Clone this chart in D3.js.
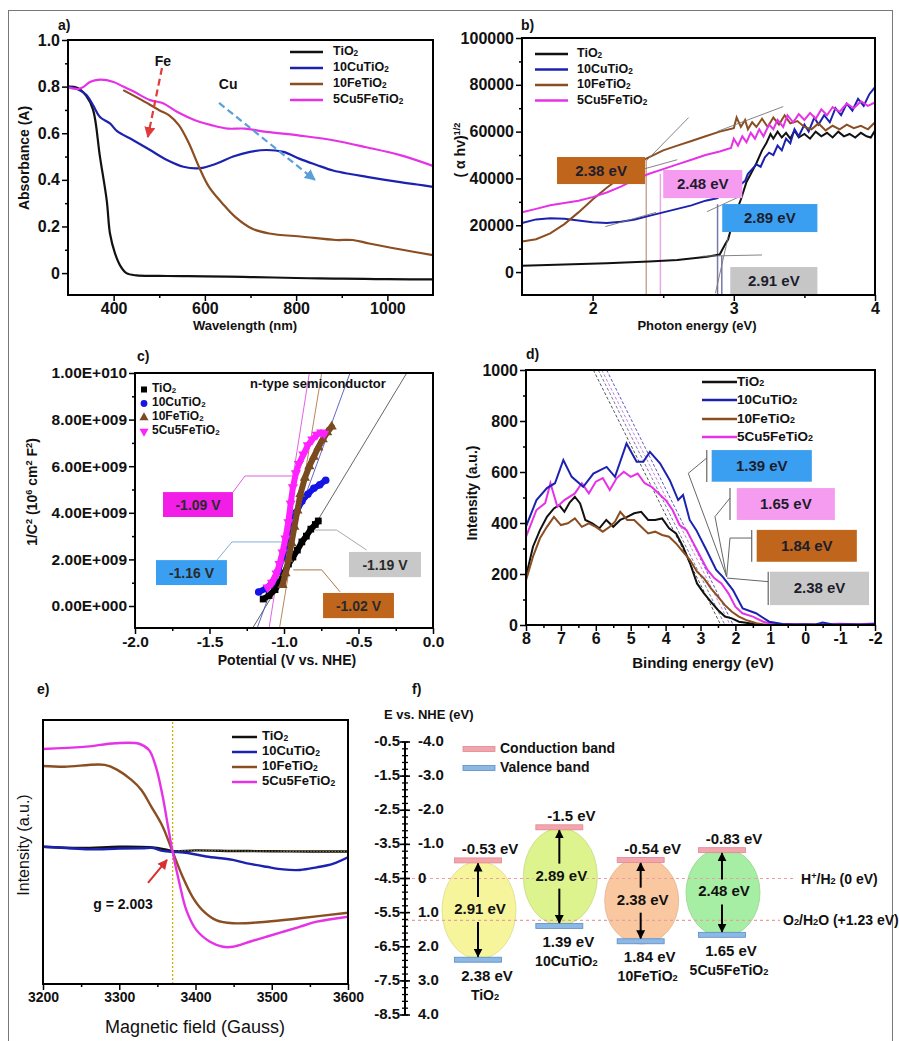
<!DOCTYPE html>
<html><head><meta charset="utf-8">
<script src="https://cdn.jsdelivr.net/npm/d3@7"></script>
<style>body{margin:0;background:#fff}svg{display:block}</style>
</head><body><script>
// ================= DATA =================
const seriesNames = ["TiO_2","10CuTiO_2","10FeTiO_2","5Cu5FeTiO_2"];
const lineColors = ["#111111","#1c22b0","#8b4e22","#e632e6"];

// (a) absorbance vs wavelength
const aTiO2 = [[300,0.80],[320,0.795],[340,0.76],[355,0.70],[370,0.50],[385,0.31],[392,0.17],[403,0.085],[415,0.03],[428,0.0],[450,-0.01],[500,-0.012],[550,-0.013],[600,-0.014],[650,-0.015],[700,-0.017],[750,-0.019],[800,-0.021],[850,-0.023],[900,-0.024],[950,-0.025],[1000,-0.026],[1050,-0.027],[1100,-0.027]];
const aCu = [[300,0.80],[320,0.79],[340,0.765],[355,0.72],[370,0.67],[392,0.642],[407,0.61],[443,0.57],[480,0.528],[517,0.485],[553,0.456],[589,0.45],[626,0.47],[662,0.50],[699,0.52],[735,0.528],[772,0.52],[808,0.49],[845,0.464],[881,0.44],[918,0.425],[955,0.413],[1028,0.39],[1065,0.38],[1100,0.37]];
const aFe = [[421,0.785],[462,0.742],[499,0.70],[521,0.678],[543,0.635],[565,0.557],[587,0.456],[609,0.37],[638,0.30],[667,0.24],[704,0.19],[741,0.17],[814,0.156],[887,0.142],[924,0.142],[960,0.127],[1033,0.10],[1100,0.077]];
const aMag = [[300,0.797],[323,0.79],[335,0.80],[348,0.82],[370,0.83],[400,0.82],[421,0.80],[443,0.78],[480,0.742],[507,0.73],[541,0.69],[577,0.657],[614,0.635],[650,0.62],[687,0.62],[735,0.606],[808,0.59],[881,0.57],[954,0.54],[1028,0.506],[1100,0.46]];
const aYTicks = [0,0.2,0.4,0.6,0.8,1.0];
const aYLabels = ["0","0.2","0.4","0.6","0.8","1.0"];
const aXTicks = [400,600,800,1000];

// (b) Tauc plot
const bTiO2 = [[1.5,2700],[1.8,3200],[2.1,3800],[2.4,4500],[2.6,5200],[2.81,6500],[2.9,7500],[2.94,12000],[2.96,14000],[3.0,23000],[3.05,31000],[3.09,38500],[3.16,46500],[3.2,52000],[3.23,55000],[3.26,59000],[3.28,57000],[3.31,60000],[3.34,57500],[3.37,59500],[3.4,57000],[3.43,60500],[3.46,57500],[3.5,59000],[3.54,57000],[3.58,60000],[3.62,58000],[3.66,59500],[3.7,57500],[3.74,60000],[3.78,58000],[3.82,59000],[3.86,57500],[3.9,59500],[3.94,58000],[3.97,57500],[4.0,60500]];
const bCu = [[1.5,21000],[1.6,22500],[1.7,23000],[1.8,22800],[1.9,22000],[2.0,21300],[2.1,21000],[2.2,21500],[2.3,22500],[2.4,24000],[2.5,25500],[2.6,27000],[2.7,28500],[2.8,30500],[2.88,31500],[2.95,34000],[3.0,36000],[3.05,37500],[3.08,39000],[3.1,42000],[3.13,44000],[3.16,46000],[3.19,45000],[3.22,49000],[3.25,51000],[3.28,50000],[3.31,54000],[3.34,52000],[3.37,57000],[3.4,55000],[3.43,61000],[3.46,58000],[3.5,63000],[3.53,60000],[3.57,66000],[3.6,63000],[3.64,67000],[3.68,64000],[3.72,70000],[3.76,67000],[3.8,72000],[3.84,69000],[3.88,74000],[3.92,71000],[3.96,76000],[4.0,79000]];
const bFe = [[1.5,13000],[1.6,14000],[1.7,16500],[1.8,20500],[1.9,25500],[2.0,31000],[2.1,36000],[2.2,40500],[2.3,45000],[2.38,48500],[2.5,52000],[2.6,54000],[2.7,56000],[2.8,58000],[2.9,60000],[3.0,61500],[3.02,66000],[3.05,62000],[3.08,65000],[3.1,61000],[3.13,64000],[3.16,62000],[3.2,65500],[3.24,62000],[3.28,66000],[3.32,63000],[3.36,67000],[3.4,63500],[3.45,64500],[3.5,62000],[3.55,61000],[3.6,63500],[3.65,60500],[3.7,62500],[3.75,61000],[3.8,63000],[3.85,61500],[3.9,62500],[3.95,61000],[4.0,64000]];
const bMag = [[1.5,25500],[1.6,27000],[1.7,28500],[1.8,29500],[1.9,30500],[2.0,32000],[2.1,34000],[2.2,36500],[2.3,39500],[2.4,42000],[2.5,44000],[2.6,46000],[2.7,48000],[2.8,50000],[2.9,51500],[2.98,53000],[3.0,57000],[3.03,54000],[3.06,58000],[3.09,55500],[3.12,59500],[3.15,57000],[3.18,61000],[3.21,58000],[3.25,63000],[3.28,61000],[3.31,65000],[3.35,62000],[3.38,67000],[3.42,64000],[3.46,67500],[3.5,65000],[3.54,68000],[3.58,65500],[3.62,69500],[3.66,67000],[3.7,70500],[3.75,68500],[3.8,72000],[3.85,70000],[3.9,73000],[3.95,71000],[4.0,72500]];
const bYTicks = [0,20000,40000,60000,80000,100000];
const bXTicks = [2,3,4];
const bTangents = [[[2.38,47500],[2.68,66000]],[[2.88,60000],[3.35,70700]],[[2.24,42000],[2.6,48000]],[[2.09,19400],[2.45,25500]],[[2.81,25800],[3.04,32200]],[[2.78,6800],[3.2,7300]],[[2.87,-9000],[2.96,15000]]];
const bVLines = [[2.38,47500,"#c9a898"],[2.48,42000,"#e8a8e8"],[2.885,29000,"#7777aa"],[2.915,7000,"#7777aa"]];
const bBoxes = [{x0:1.748,x1:2.372,y0:37600,y1:49150,fill:"#c0661c",label:"2.38 eV"},{x0:2.50,x1:3.06,y0:31600,y1:43600,fill:"#f59cf0",label:"2.48 eV"},{x0:2.918,x1:3.592,y0:17090,y1:29060,fill:"#3a9ff0",label:"2.89 eV"},{x0:2.975,x1:3.592,y0:-9830,y1:2140,fill:"#c6c6c6",label:"2.91 eV"}];

// (c) Mott-Schottky (1/C^2 in units of 1e9)
const cTiO2 = [[-1.14,0.3],[-1.1,0.45],[-1.06,0.7],[-1.03,1.0],[-1.0,1.4],[-0.97,1.8],[-0.94,2.1],[-0.91,2.4],[-0.88,2.75],[-0.85,3.0],[-0.82,3.3],[-0.79,3.5],[-0.77,3.65]];
const cCu = [[-1.17,0.6],[-1.12,0.75],[-1.08,1.0],[-1.04,1.5],[-1.01,2.1],[-0.98,2.7],[-0.95,3.4],[-0.92,4.0],[-0.88,4.5],[-0.84,4.8],[-0.8,5.05],[-0.76,5.2],[-0.72,5.4]];
const cFe = [[-1.01,0.9],[-0.99,1.4],[-0.97,2.0],[-0.95,2.7],[-0.93,3.4],[-0.91,4.1],[-0.89,4.8],[-0.86,5.5],[-0.83,6.0],[-0.80,6.4],[-0.77,6.8],[-0.74,7.15],[-0.71,7.45],[-0.68,7.7]];
const cMag = [[-1.11,0.8],[-1.08,1.0],[-1.05,1.4],[-1.03,1.8],[-1.01,2.3],[-0.99,2.9],[-0.97,3.6],[-0.955,4.4],[-0.94,5.1],[-0.92,5.7],[-0.9,6.1],[-0.87,6.5],[-0.84,6.9],[-0.81,7.15],[-0.78,7.35],[-0.75,7.45],[-0.73,7.4]];
const cYTicks = [0,2,4,6,8,10];
const cYLabels = ["0.00E+000","2.00E+009","4.00E+009","6.00E+009","8.00E+009","1.00E+010"];
const cXTicks = [-2,-1.5,-1,-0.5,0];
const cXLabels = ["-2.0","-1.5","-1.0","-0.5","0.0"];
const cFits = [[[-1.21,-0.944],[-0.176,10]],[[-1.18,-0.944],[-0.557,10]],[[-1.03,-0.944],[-0.747,10]],[[-1.10,-0.944],[-0.83,10]]];
const cFitColors = ["#555555","#5555c0","#b07848","#e050e0"];
const cBoxes = [{x0:-1.812,x1:-1.342,y0:3.82,y1:4.89,fill:"#f21ee8",label:"-1.09 V",lead:[[-1.342,4.89],[-1.262,5.58],[-0.94,5.58]],lc:"#e060e0"},{x0:-1.859,x1:-1.383,y0:0.90,y1:1.97,fill:"#3a9ff0",label:"-1.16 V",lead:[[-1.45,1.97],[-1.349,2.75],[-0.98,2.75]],lc:"#80b0d8"},{x0:-0.564,x1:-0.081,y0:1.24,y1:2.32,fill:"#c8c8c8",label:"-1.19 V",lead:[[-0.445,2.40],[-0.647,3.26],[-0.792,3.26]],lc:"#aaaaaa"},{x0:-0.738,x1:-0.262,y0:-0.52,y1:0.56,fill:"#c0661c",label:"-1.02 V",lead:[[-0.624,0.61],[-0.747,1.55],[-0.938,1.55]],lc:"#b07848"}];

// (d) VB-XPS
const dTiO2 = [[8,190],[7.8,307],[7.6,372],[7.4,424],[7.2,457],[7.05,470],[6.9,444],[6.75,480],[6.6,503],[6.45,477],[6.3,412],[6.1,399],[5.9,379],[5.7,412],[5.5,385],[5.3,412],[5.1,424],[4.9,438],[4.7,444],[4.5,412],[4.3,412],[4.1,418],[3.9,379],[3.7,359],[3.5,307],[3.3,242],[3.1,163],[2.9,124],[2.7,91],[2.5,59],[2.3,33],[2.1,26],[1.9,13],[1.6,7],[1.3,0],[1.0,2],[0.5,0],[0,1],[-0.5,0],[-1,1],[-1.5,0],[-2,0]];
const dCu = [[8,386],[7.7,490],[7.4,537],[7.17,556],[6.93,647],[6.69,581],[6.36,542],[6.07,594],[5.69,620],[5.45,581],[5.12,712],[4.83,640],[4.64,640],[4.45,679],[4.16,634],[3.88,568],[3.64,490],[3.5,510],[3.31,412],[3.12,372],[2.83,294],[2.55,216],[2.36,189],[2.07,137],[1.79,65],[1.41,46],[1.03,13],[0.65,4],[0.3,2],[0,3],[-0.3,2],[-0.5,10],[-0.8,2],[-1.2,3],[-1.6,2],[-2,4]];
const dFe = [[8,176],[7.8,268],[7.6,340],[7.4,385],[7.2,424],[7.0,392],[6.8,399],[6.6,418],[6.4,385],[6.2,399],[6.0,385],[5.8,366],[5.6,385],[5.45,405],[5.3,444],[5.1,412],[4.9,412],[4.7,385],[4.5,359],[4.3,366],[4.1,353],[3.9,346],[3.7,320],[3.5,287],[3.3,255],[3.1,209],[2.9,183],[2.7,144],[2.5,111],[2.3,78],[2.1,52],[1.9,33],[1.7,20],[1.4,7],[1.1,0],[0.5,2],[0,0],[-1,1],[-2,0]];
const dMag = [[8,346],[7.7,451],[7.45,478],[7.3,556],[7.1,464],[6.9,490],[6.6,516],[6.4,556],[6.2,516],[6.0,562],[5.8,576],[5.6,529],[5.4,576],[5.2,601],[5.0,581],[4.8,594],[4.6,556],[4.4,542],[4.2,516],[4.0,490],[3.8,451],[3.6,392],[3.4,372],[3.2,320],[3.0,268],[2.8,216],[2.6,183],[2.4,163],[2.2,124],[2.0,72],[1.8,46],[1.5,33],[1.2,13],[0.9,2],[0.5,4],[0,2],[-0.5,3],[-1,5],[-1.5,3],[-2,6]];
const dYTicks = [0,200,400,600,800,1000];
const dXTicks = [8,7,6,5,4,3,2,1,0,-1,-2];
const dFits = [[[6.07,1000],[2.42,0]],[[5.93,1000],[2.30,0]],[[5.83,1000],[2.15,0]],[[5.69,1000],[2.06,0]]];
const dFitColors = ["#555555","#7777aa","#d080d0","#5555cc"];
const dBoxes = [{x0:2.68,x1:-0.19,y0:562,y1:686,fill:"#3a9ff0",label:"1.39 eV",bar:[2.82,561,686],lead:[[2.82,655],[3.35,595],[2.25,189]]},{x0:1.96,x1:-0.85,y0:412,y1:537,fill:"#f59cf0",label:"1.65 eV",bar:[2.155,412,537],lead:[[2.155,498],[2.585,425],[2.25,189]]},{x0:1.39,x1:-1.48,y0:248,y1:373,fill:"#c0661c",label:"1.84 eV",bar:[1.533,248,373],lead:[[1.533,341],[2.155,341],[2.25,189]]},{x0:1.01,x1:-1.83,y0:78,y1:209,fill:"#c8c8c8",label:"2.38 eV",bar:[1.06,78,209],lead:[[1.06,170],[2.24,184]]}];

// (e) EPR
const eTiO2 = [[3200,52],[3250,51.5],[3300,52],[3340,51.8],[3360,51],[3370,50.3],[3400,50.6],[3450,50.4],[3500,50.3],[3550,50.2],[3600,50.2]];
const eCu = [[3200,52],[3230,51.5],[3260,51],[3300,51.3],[3330,51.4],[3345,51.5],[3355,50.5],[3370,50.1],[3390,49.6],[3414,48.3],[3449,47],[3466,45.8],[3493,44.4],[3515,43.4],[3537,43.2],[3559,44.2],[3580,45.5],[3600,48]];
const eFe = [[3200,82.6],[3228,82.3],[3281,83],[3298,81],[3316,77.3],[3329,73.5],[3342,67.2],[3357,59.6],[3370,50.1],[3383,40.7],[3396,33],[3409,28],[3427,24.2],[3449,23],[3493,23.6],[3537,24.9],[3600,27]];
const eMag = [[3200,89],[3253,89.8],[3295,91.2],[3326,91],[3339,88.6],[3348,82.3],[3357,71],[3364,59.6],[3370,50.1],[3379,38.1],[3388,28],[3401,20.5],[3419,16],[3436,14.1],[3449,14.1],[3471,16],[3493,17.9],[3515,19.8],[3537,21.7],[3559,23.6],[3600,25.5]];
const eXTicks = [3200,3300,3400,3500,3600];
const eG = 3370;

// (f) band structure
const fNames = ["TiO_2","10CuTiO_2","10FeTiO_2","5Cu5FeTiO_2"];
const fCB = [-0.53,-1.5,-0.54,-0.83];
const fVB = [2.38,1.39,1.84,1.65];
const fCBLabels = ["-0.53 eV","-1.5 eV","-0.54 eV","-0.83 eV"];
const fVBLabels = ["2.38 eV","1.39 eV","1.84 eV","1.65 eV"];
const fGapLabels = ["2.91 eV","2.89 eV","2.38 eV","2.48 eV"];
const fFill = ["#f6f59c","#dcf38e","#f9c8a0","#a6eea3"];
const fRightTicks = [-4,-3,-2,-1,0,1,2,3,4];
const fRightLabels = ["-4.0","-3.0","-2.0","-1.0","0","1.0","2.0","3.0","4.0"];
const fLeftLabels = ["-0.5","-1.5","-2.5","-3.5","-4.5","-5.5","-6.5","-7.5","-8.5"];
const fRedox = [[0,"H^+/H_2 (0 eV)"],[1.23,"O_2/H_2O (+1.23 eV)"]];

// ================= DRAWING =================
const FONT = '"Liberation Sans", Arial, Helvetica, sans-serif';
const svg = d3.select("body").append("svg").attr("width",899).attr("height",1041).style("font-family",FONT);
svg.append("rect").attr("width",899).attr("height",1041).attr("fill","#fff");
svg.append("rect").attr("x",8.5).attr("y",10.5).attr("width",884).attr("height",1040).attr("fill","none").attr("stroke","#777").attr("stroke-width",1);
const defs = svg.append("defs");
function marker(id,color,s){
  defs.append("marker").attr("id",id).attr("viewBox","0 0 10 10").attr("refX",9).attr("refY",5)
    .attr("markerWidth",s).attr("markerHeight",s).attr("markerUnits","userSpaceOnUse").attr("orient","auto")
    .append("path").attr("d","M0,0 L10,5 L0,10 z").attr("fill",color);
}
marker("arRed","#e03a3a",11); marker("arBlue","#5aa0d8",11); marker("arBlack","#000",9); marker("arRed2","#d83030",10);

function txt(g,x,y,s,o={}){
  const t = g.append("text").attr("x",x).attr("y",y)
    .attr("font-size",o.size||14).attr("font-weight",o.weight||"bold")
    .attr("text-anchor",o.anchor||"start").attr("fill",o.fill||"#111")
    .attr("dominant-baseline",o.base||"middle");
  if (o.rotate) t.attr("transform",`rotate(${o.rotate},${x},${y})`);
  s.split(/(_\{[^}]*\}|_.|\^\{[^}]*\}|\^.)/).forEach(p=>{
    if(!p) return;
    if(p[0]==="_"||p[0]==="^"){
      const v = p[1]==="{"?p.slice(2,-1):p.slice(1);
      t.append("tspan").attr("baseline-shift",p[0]==="_"?"-22%":"38%").attr("font-size","66%").text(v);
    } else t.append("tspan").text(p);
  });
  return t;
}
let clipN=0;
function frame(x,y,o){
  const g = svg.append("g");
  const [xl,xr]=x.range().slice().sort((a,b)=>a-b);
  const yb=y.range()[0], yt=y.range()[1];
  const st = sel=>{ sel.select(".domain").remove(); sel.selectAll("line").attr("stroke","#000").attr("stroke-width",1.5);
    sel.selectAll("text").attr("font-family",FONT).attr("font-weight","bold").attr("font-size",o.ts||16).attr("fill","#111"); };
  if(o.xMinor) g.append("g").attr("transform",`translate(0,${yb})`).call(d3.axisBottom(x).tickValues(o.xMinor).tickSize(3).tickFormat("")).call(st);
  if(o.xMajor) g.append("g").attr("transform",`translate(0,${yb})`).call(d3.axisBottom(x).tickValues(o.xMajor).tickSize(6).tickPadding(2).tickFormat((d,i)=>o.xLabels?o.xLabels[i]:d)).call(st);
  if(o.yMinor) g.append("g").attr("transform",`translate(${xl},0)`).call(d3.axisLeft(y).tickValues(o.yMinor).tickSize(3).tickFormat("")).call(st);
  if(o.yMajor) g.append("g").attr("transform",`translate(${xl},0)`).call(d3.axisLeft(y).tickValues(o.yMajor).tickSize(6).tickPadding(2).tickFormat((d,i)=>o.yLabels?o.yLabels[i]:d)).call(st);
  const id="clip"+(clipN++);
  defs.append("clipPath").attr("id",id).append("rect").attr("x",xl).attr("y",yt).attr("width",xr-xl).attr("height",yb-yt);
  const plot = g.append("g").attr("clip-path",`url(#${id})`);
  g.append("rect").attr("x",xl).attr("y",yt).attr("width",xr-xl).attr("height",yb-yt).attr("fill","none").attr("stroke","#000").attr("stroke-width",2);
  return {g,plot,top:g};
}
function lineG(x,y,curve){ return d3.line().x(d=>x(d[0])).y(d=>y(d[1])).curve(curve||d3.curveLinear); }
function legendLines(g,x0,x1,tx,ys,size,w){
  seriesNames.forEach((n,i)=>{
    g.append("line").attr("x1",x0).attr("x2",x1).attr("y1",ys[i]).attr("y2",ys[i]).attr("stroke",lineColors[i]).attr("stroke-width",w||2.5);
    txt(g,tx,ys[i],n,{size:size||13});
  });
}
function tagBox(g,x,y,b,size,tcol){
  const px0=Math.min(x(b.x0),x(b.x1)), px1=Math.max(x(b.x0),x(b.x1));
  const py0=Math.min(y(b.y0),y(b.y1)), py1=Math.max(y(b.y0),y(b.y1));
  g.append("rect").attr("x",px0).attr("y",py0).attr("width",px1-px0).attr("height",py1-py0).attr("fill",b.fill);
  txt(g,(px0+px1)/2,(py0+py1)/2+1,b.label,{size:size||15,anchor:"middle",fill:tcol||"#1d1d2d"});
}

// ---------- (a) ----------
{
  const x=d3.scaleLinear([300,1100],[68,433]), y=d3.scaleLinear([-0.094,1.0],[295,40]);
  const P=frame(x,y,{xMajor:aXTicks,xMinor:[500,700,900],yMajor:aYTicks,yLabels:aYLabels,yMinor:[0.1,0.3,0.5,0.7,0.9]});
  const L=lineG(x,y,d3.curveCatmullRom);
  [aTiO2,aCu,aFe,aMag].forEach((d,i)=>P.plot.append("path").attr("d",L(d)).attr("fill","none").attr("stroke",lineColors[i]).attr("stroke-width",2.2));
  P.top.append("line").attr("x1",x(506)).attr("y1",y(0.88)).attr("x2",x(475)).attr("y2",y(0.584)).attr("stroke","#e03a3a").attr("stroke-width",2.2).attr("stroke-dasharray","7,4").attr("marker-end","url(#arRed)");
  P.top.append("line").attr("x1",x(631)).attr("y1",y(0.73)).attr("x2",x(841)).attr("y2",y(0.40)).attr("stroke","#5aa0d8").attr("stroke-width",2.2).attr("stroke-dasharray","7,4").attr("marker-end","url(#arBlue)");
  txt(P.top,x(508),y(0.905),"Fe",{size:14,anchor:"middle"});
  txt(P.top,x(651),y(0.807),"Cu",{size:14,anchor:"middle"});
  legendLines(P.top,290,323,333,[52,68,84,100],12.5);
  txt(svg,58,26,"a)",{size:14});
  txt(svg,25,158,"Absorbance (A)",{size:14,rotate:-90,anchor:"middle",weight:"600"});
  txt(svg,245,327,"Wavelength (nm)",{size:13,anchor:"middle"});
}
// ---------- (b) ----------
{
  const x=d3.scaleLinear([1.5,4],[522,875]), y=d3.scaleLinear([-9800,100000],[295,38]);
  const P=frame(x,y,{xMajor:bXTicks,xMinor:[2.5,3.5],yMajor:bYTicks,yMinor:[10000,30000,50000,70000,90000]});
  bVLines.forEach(v=>P.plot.append("line").attr("x1",x(v[0])).attr("x2",x(v[0])).attr("y1",y(v[1])).attr("y2",y(-9800)).attr("stroke",v[2]).attr("stroke-width",1.5));
  const L=lineG(x,y);
  [bTiO2,bCu,bFe,bMag].forEach((d,i)=>P.plot.append("path").attr("d",L(d)).attr("fill","none").attr("stroke",lineColors[i]).attr("stroke-width",2));
  bTangents.forEach(t=>P.plot.append("path").attr("d",L(t)).attr("stroke","#777").attr("stroke-width",0.9).attr("fill","none"));
  bBoxes.forEach(b=>tagBox(P.plot,x,y,b,15));
  legendLines(P.top,535,568,577,[54,69.5,85,100.5],12.5);
  txt(svg,521,26,"b)",{size:14});
  txt(svg,461,150,"( α hv)^{1/2}",{size:14,rotate:-90,anchor:"middle",weight:"600"});
  txt(svg,697,327,"Photon energy (eV)",{size:13,anchor:"middle"});
}
// ---------- (c) ----------
{
  const x=d3.scaleLinear([-2,0],[135,433]), y=d3.scaleLinear([-0.944,10],[628,373]);
  const P=frame(x,y,{xMajor:cXTicks,xLabels:cXLabels,xMinor:[-1.75,-1.25,-0.75,-0.25],yMajor:cYTicks,yLabels:cYLabels,yMinor:[1,3,5,7,9],ts:15.5});
  const L=lineG(x,y);
  cFits.forEach((f,i)=>P.plot.append("path").attr("d",L(f)).attr("stroke",cFitColors[i]).attr("stroke-width",0.9).attr("fill","none"));
  cBoxes.forEach(b=>P.plot.append("path").attr("d",L(b.lead)).attr("stroke",b.lc).attr("stroke-width",1).attr("fill","none"));
  const sc = ["#000000","#1414e6","#7a4a20","#ff22ff"];
  const sym = [d3.symbolSquare,d3.symbolCircle,d3.symbolTriangle,d3.symbolTriangle];
  [cTiO2,cCu,cFe,cMag].forEach((d,i)=>{
    P.plot.append("path").attr("d",L(d)).attr("fill","none").attr("stroke",sc[i]).attr("stroke-width",6).attr("stroke-linecap","round");
    P.plot.selectAll(null).data(d).enter().append("path").attr("d",d3.symbol(sym[i],45))
      .attr("transform",p=>`translate(${x(p[0])},${y(p[1])})${i===3?" rotate(180)":""}`).attr("fill",sc[i]);
  });
  cBoxes.forEach(b=>tagBox(P.plot,x,y,b,14,"#2a2a2a"));
  const ly=[389.5,403.5,417.5,431.5];
  seriesNames.forEach((n,i)=>{
    P.top.append("path").attr("d",d3.symbol(sym[i],36)).attr("transform",`translate(144,${ly[i]})${i===3?" rotate(180)":""}`).attr("fill",sc[i]);
    txt(P.top,152,ly[i]-1,n,{size:12});
  });
  txt(P.top,250,385,"n-type semiconductor",{size:13});
  txt(svg,137,357,"c)",{size:14});
  txt(svg,33,492,"1/C^2 (10^6 cm^2 F^2)",{size:14,rotate:-90,anchor:"middle",weight:"600"});
  txt(svg,287,661,"Potential (V vs. NHE)",{size:14,anchor:"middle"});
}
// ---------- (d) ----------
{
  const x=d3.scaleLinear([8,-2],[526,875]), y=d3.scaleLinear([0,1000],[625,370]);
  const P=frame(x,y,{xMajor:dXTicks,xMinor:[7.5,6.5,5.5,4.5,3.5,2.5,1.5,0.5,-0.5,-1.5],yMajor:dYTicks,yMinor:[100,300,500,700,900]});
  const L=lineG(x,y);
  dFits.forEach((f,i)=>P.plot.append("path").attr("d",L(f)).attr("stroke",dFitColors[i]).attr("stroke-width",1).attr("stroke-dasharray","3,2").attr("fill","none"));
  [dTiO2,dFe,dMag,dCu].forEach((d,k)=>{const i=[0,2,3,1][k];P.plot.append("path").attr("d",L(d)).attr("fill","none").attr("stroke",lineColors[i]).attr("stroke-width",2);});
  dBoxes.forEach(b=>{
    P.plot.append("line").attr("x1",x(b.bar[0])).attr("x2",x(b.bar[0])).attr("y1",y(b.bar[1])).attr("y2",y(b.bar[2])).attr("stroke","#666").attr("stroke-width",1.2);
    P.plot.append("path").attr("d",L(b.lead)).attr("stroke","#666").attr("stroke-width",1).attr("fill","none");
    tagBox(P.plot,x,y,b,15);
  });
  legendLines(P.top,702,737,737,[382,400,419,437],13.5);
  txt(svg,526,355,"d)",{size:14});
  txt(svg,473,493,"Intensity (a.u.)",{size:14,rotate:-90,anchor:"middle",weight:"600"});
  txt(svg,703,664,"Binding energy (eV)",{size:15,anchor:"middle"});
}
// ---------- (e) ----------
{
  const x=d3.scaleLinear([3200,3600],[43,348]), y=d3.scaleLinear([0,100],[984,720]);
  const P=frame(x,y,{xMajor:eXTicks,xMinor:[3250,3350,3450,3550],ts:14});
  P.plot.append("line").attr("x1",x(eG)).attr("x2",x(eG)).attr("y1",y(0)).attr("y2",y(100)).attr("stroke","#c8b400").attr("stroke-width",1.3).attr("stroke-dasharray","2,2");
  const L=lineG(x,y,d3.curveCatmullRom);
  P.plot.append("path").attr("d",L(eTiO2)).attr("fill","none").attr("stroke",lineColors[0]).attr("stroke-width",2.4);
  P.plot.append("path").attr("d",L(eTiO2.filter(d=>d[0]>=eG))).attr("fill","none").attr("stroke","#b8a840").attr("stroke-width",1.2).attr("stroke-dasharray","1,2");
  [eCu,eFe,eMag].forEach((d,k)=>P.plot.append("path").attr("d",L(d)).attr("fill","none").attr("stroke",lineColors[k+1]).attr("stroke-width",2.4));
  P.top.append("line").attr("x1",x(3337.7)).attr("y1",y(38.3)).attr("x2",x(3362.6)).attr("y2",y(47)).attr("stroke","#d83030").attr("stroke-width",2).attr("marker-end","url(#arRed2)");
  txt(P.top,x(3266),y(30),"g = 2.003",{size:14});
  legendLines(P.top,232,257,262,[737,752,767,782],13);
  txt(svg,37,690,"e)",{size:14});
  txt(svg,25,845,"Intensity (a.u.)",{size:16,rotate:-90,anchor:"middle",weight:"normal"});
  txt(svg,195,1028,"Magnetic field (Gauss)",{size:18,anchor:"middle",weight:"normal"});
}
// ---------- (f) ----------
{
  const g=svg.append("g");
  const y=d3.scaleLinear([-4,4],[742,1015]);
  const ax=405;
  const bx=d3.scalePoint(fNames,[478,722]);
  fNames.forEach((n,i)=>{
    const yc=y(fCB[i]), yv=y(fVB[i]), half=(yv-yc)/2;
    g.append("ellipse").attr("cx",bx(n)+1).attr("cy",(yc+yv)/2).attr("rx",37).attr("ry",half*0.6+19)
      .attr("fill",fFill[i]).attr("stroke",d3.color(fFill[i]).darker(0.3)).attr("stroke-width",0.8);
  });
  fRedox.forEach((r,i)=>{
    g.append("line").attr("x1",ax+1).attr("x2",i===0?795:780).attr("y1",y(r[0])).attr("y2",y(r[0])).attr("stroke","#e8a0a0").attr("stroke-width",1.2).attr("stroke-dasharray","3,3");
    txt(g,i===0?801:783,y(r[0])+1,r[1],{size:14});
  });
  g.append("line").attr("x1",ax).attr("x2",ax).attr("y1",y(-4)).attr("y2",y(4)).attr("stroke","#000").attr("stroke-width",2);
  d3.range(-4,4.001,0.2).forEach(v=>g.append("line").attr("x1",ax-3).attr("x2",ax+3).attr("y1",y(v)).attr("y2",y(v)).attr("stroke","#000").attr("stroke-width",1.3));
  fRightTicks.forEach((v,i)=>{
    g.append("line").attr("x1",ax-5).attr("x2",ax+5).attr("y1",y(v)).attr("y2",y(v)).attr("stroke","#000").attr("stroke-width",1.6);
    txt(g,400,y(v),fLeftLabels[i],{size:15,anchor:"end"});
    txt(g,418,y(v),fRightLabels[i],{size:15});
  });
  txt(g,412,690,"f)",{size:14});
  txt(g,384,716,"E vs. NHE (eV)",{size:13});
  g.append("rect").attr("x",463).attr("y",746.5).attr("width",32).attr("height",5).attr("fill","#f3a5ad").attr("stroke","#e08890").attr("stroke-width",0.8);
  g.append("rect").attr("x",463).attr("y",765.5).attr("width",32).attr("height",5).attr("fill","#8cb8e6").attr("stroke","#5a8cc8").attr("stroke-width",0.8);
  txt(g,500,749,"Conduction band",{size:14});
  txt(g,500,768,"Valence band",{size:14});
  fNames.forEach((n,i)=>{
    const cx=bx(n), yc=y(fCB[i]), yv=y(fVB[i]);
    g.append("rect").attr("x",cx-23.5).attr("y",yc-2.5).attr("width",47).attr("height",5).attr("fill","#f3a5ad").attr("stroke","#e08890").attr("stroke-width",0.8);
    g.append("rect").attr("x",cx-23.5).attr("y",yv-2.5).attr("width",47).attr("height",5).attr("fill","#8cb8e6").attr("stroke","#5a8cc8").attr("stroke-width",0.8);
    const mid=(yc+yv)/2;
    g.append("line").attr("x1",cx).attr("x2",cx).attr("y1",mid-13).attr("y2",yc+3).attr("stroke","#000").attr("stroke-width",2).attr("marker-end","url(#arBlack)");
    g.append("line").attr("x1",cx).attr("x2",cx).attr("y1",mid+12).attr("y2",yv-3).attr("stroke","#000").attr("stroke-width",2).attr("marker-end","url(#arBlack)");
    g.append("rect").attr("x",cx-26).attr("y",mid-9).attr("width",52).attr("height",18).attr("fill",fFill[i]);
    txt(g,cx+2,mid,fGapLabels[i],{size:15,anchor:"middle"});
    txt(g,cx+12,yc-10,fCBLabels[i],{size:15,anchor:"middle"});
    txt(g,cx+9,yv+17,fVBLabels[i],{size:15,anchor:"middle"});
    txt(g,cx+7,yv+36,fNames[i],{size:14,anchor:"middle"});
  });
}
</script></body></html>
